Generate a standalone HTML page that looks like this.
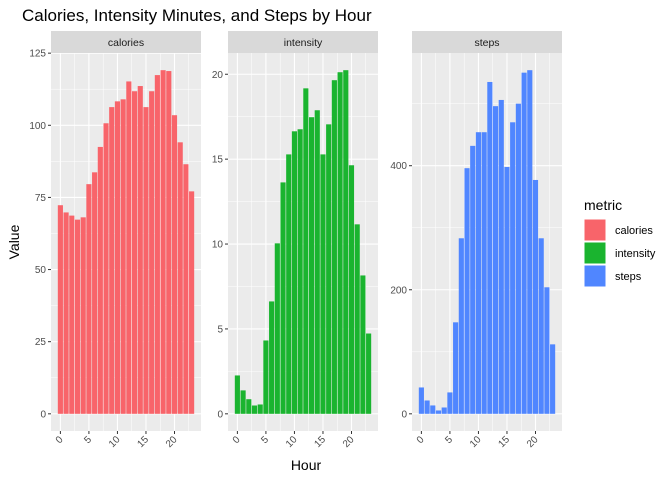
<!DOCTYPE html>
<html><head><meta charset="utf-8"><style>
body{margin:0;background:#fff;}
svg{display:block;font-family:"Liberation Sans",Arial,sans-serif;}
</style></head><body>
<svg id="c" width="672" height="480"></svg>
<script>
const hours = [0,1,2,3,4,5,6,7,8,9,10,11,12,13,14,15,16,17,18,19,20,21,22,23];
const calories = [72.3,69.8,68.7,67.3,68.1,79.6,83.7,92.5,100.7,106.3,108.3,109,115.2,111.8,113.6,106.3,111.8,117.4,119.1,118.8,103.5,94.1,86.5,77.1];
const intensity = [2.26,1.38,0.86,0.49,0.55,4.32,6.62,10.04,13.63,15.28,16.64,16.76,19.17,17.47,17.88,15.28,17.05,19.65,20.12,20.24,14.64,11.16,8.15,4.73];
const steps = [42.5,21.5,13.5,5.4,10.2,34.5,147.5,283,396,432,454,454,535,496,506,398,470,500,550,554,377,283,204,112];
const metrics = ["calories","intensity","steps"];
const calTicks = [0,25,50,75,100,125];
const intTicks = [0,5,10,15,20];
const stepTicks = [0,200,400];
const xTicks = [0,5,10,15,20];
const colors = ["#F8766D","#00BA38","#619CFF"];

const NS="http://www.w3.org/2000/svg";
const svg=document.getElementById('c');
function mk(tag,attrs,parent){const e=document.createElementNS(NS,tag);for(const k in attrs)e.setAttribute(k,attrs[k]);(parent||svg).appendChild(e);return e;}

const series=[calories,intensity,steps];
const ticks=[calTicks,intTicks,stepTicks];
const panelX=[51,228,412];
const PW=150, PT=53, PB=431;
const fills=["#F8646A","#1AB42F","#5086FF"];

metrics.forEach((m,i)=>{
  const vals=series[i];
  const x0=panelX[i];
  const mx=Math.max(...vals);
  const ymin=-0.05*mx, ymax=1.05*mx;
  const y=v=>PB-(v-ymin)/(ymax-ymin)*(PB-PT);
  const dlo=Math.min(...hours)-0.45, dhi=Math.max(...hours)+0.45, ex=(dhi-dlo)*0.05;
  const x=v=>x0+(v-(dlo-ex))/((dhi+ex)-(dlo-ex))*PW;
  const g=mk('g',{});
  
  
  mk('rect',{x:x0,y:PT,width:PW,height:PB-PT,fill:'#EBEBEB'},g);
  const tk=ticks[i];
  const step=tk[1]-tk[0];
  for(let t=tk[0]-step/2;t<=ymax;t+=step){ if(t>=ymin) mk('line',{x1:x0,x2:x0+PW,y1:y(t),y2:y(t),stroke:'#fff','stroke-width':0.5},g);}
  for(let t=-2.5;t<=25;t+=5){ if(x(t)>x0&&x(t)<x0+PW) mk('line',{x1:x(t),x2:x(t),y1:PT,y2:PB,stroke:'#fff','stroke-width':0.5},g);}
  tk.forEach(t=>{
    mk('line',{x1:x0,x2:x0+PW,y1:y(t),y2:y(t),stroke:'#fff','stroke-width':1.1},g);
    mk('line',{x1:x0-3,x2:x0,y1:y(t),y2:y(t),stroke:'#333','stroke-width':1},g);
    const lb=mk('text',{x:x0-5,y:y(t)+3.5,'text-anchor':'end','font-size':10,fill:'#4D4D4D'},g);
    lb.textContent=t;
    
    
  });
  xTicks.forEach(t=>{
    mk('line',{x1:x(t),x2:x(t),y1:PT,y2:PB,stroke:'#fff','stroke-width':1.1},g);
    mk('line',{x1:x(t),x2:x(t),y1:PB,y2:PB+3,stroke:'#333','stroke-width':1},g);
    const lb=mk('text',{x:x(t)+3,y:PB+9,'text-anchor':'end','font-size':10,fill:'#4D4D4D',transform:`rotate(-45 ${x(t)+3} ${PB+9})`},g);
    lb.textContent=t;
    
    
  });
  hours.forEach((h,j)=>{
    const b=mk('rect',{x:x(h-0.45),width:x(h+0.45)-x(h-0.45),y:y(vals[j]),height:y(0)-y(vals[j]),fill:fills[i]},g);
    
    
  });
  mk('rect',{x:x0,y:31,width:PW,height:22,fill:'#D9D9D9'},g);
  const st=mk('text',{x:x0+PW/2,y:46,'text-anchor':'middle','font-size':10.5,fill:'#1A1A1A'},g);
  st.textContent=m;
  
  
});

const title=mk('text',{x:22,y:21,'font-size':17,fill:'#000'});
title.textContent="Calories, Intensity Minutes, and Steps by Hour";


const yl=mk('text',{x:19,y:242,'text-anchor':'middle','font-size':14,fill:'#000',transform:'rotate(-90 19 242)'});
yl.textContent="Value";


const xl=mk('text',{x:306,y:470,'text-anchor':'middle','font-size':14,fill:'#000'});
xl.textContent="Hour";



const lt=mk('text',{x:584,y:210,'font-size':14,fill:'#000'});
lt.textContent="metric";


metrics.forEach((m,i)=>{
  const ky=219+i*23;
  const r=mk('rect',{x:584,y:ky,width:22,height:22,fill:fills[i],stroke:'#fff','stroke-width':1});
  
  
  const t=mk('text',{x:615,y:ky+15,'font-size':11,fill:'#000'});
  t.textContent=m;
  
  
});
</script>
</body></html>
